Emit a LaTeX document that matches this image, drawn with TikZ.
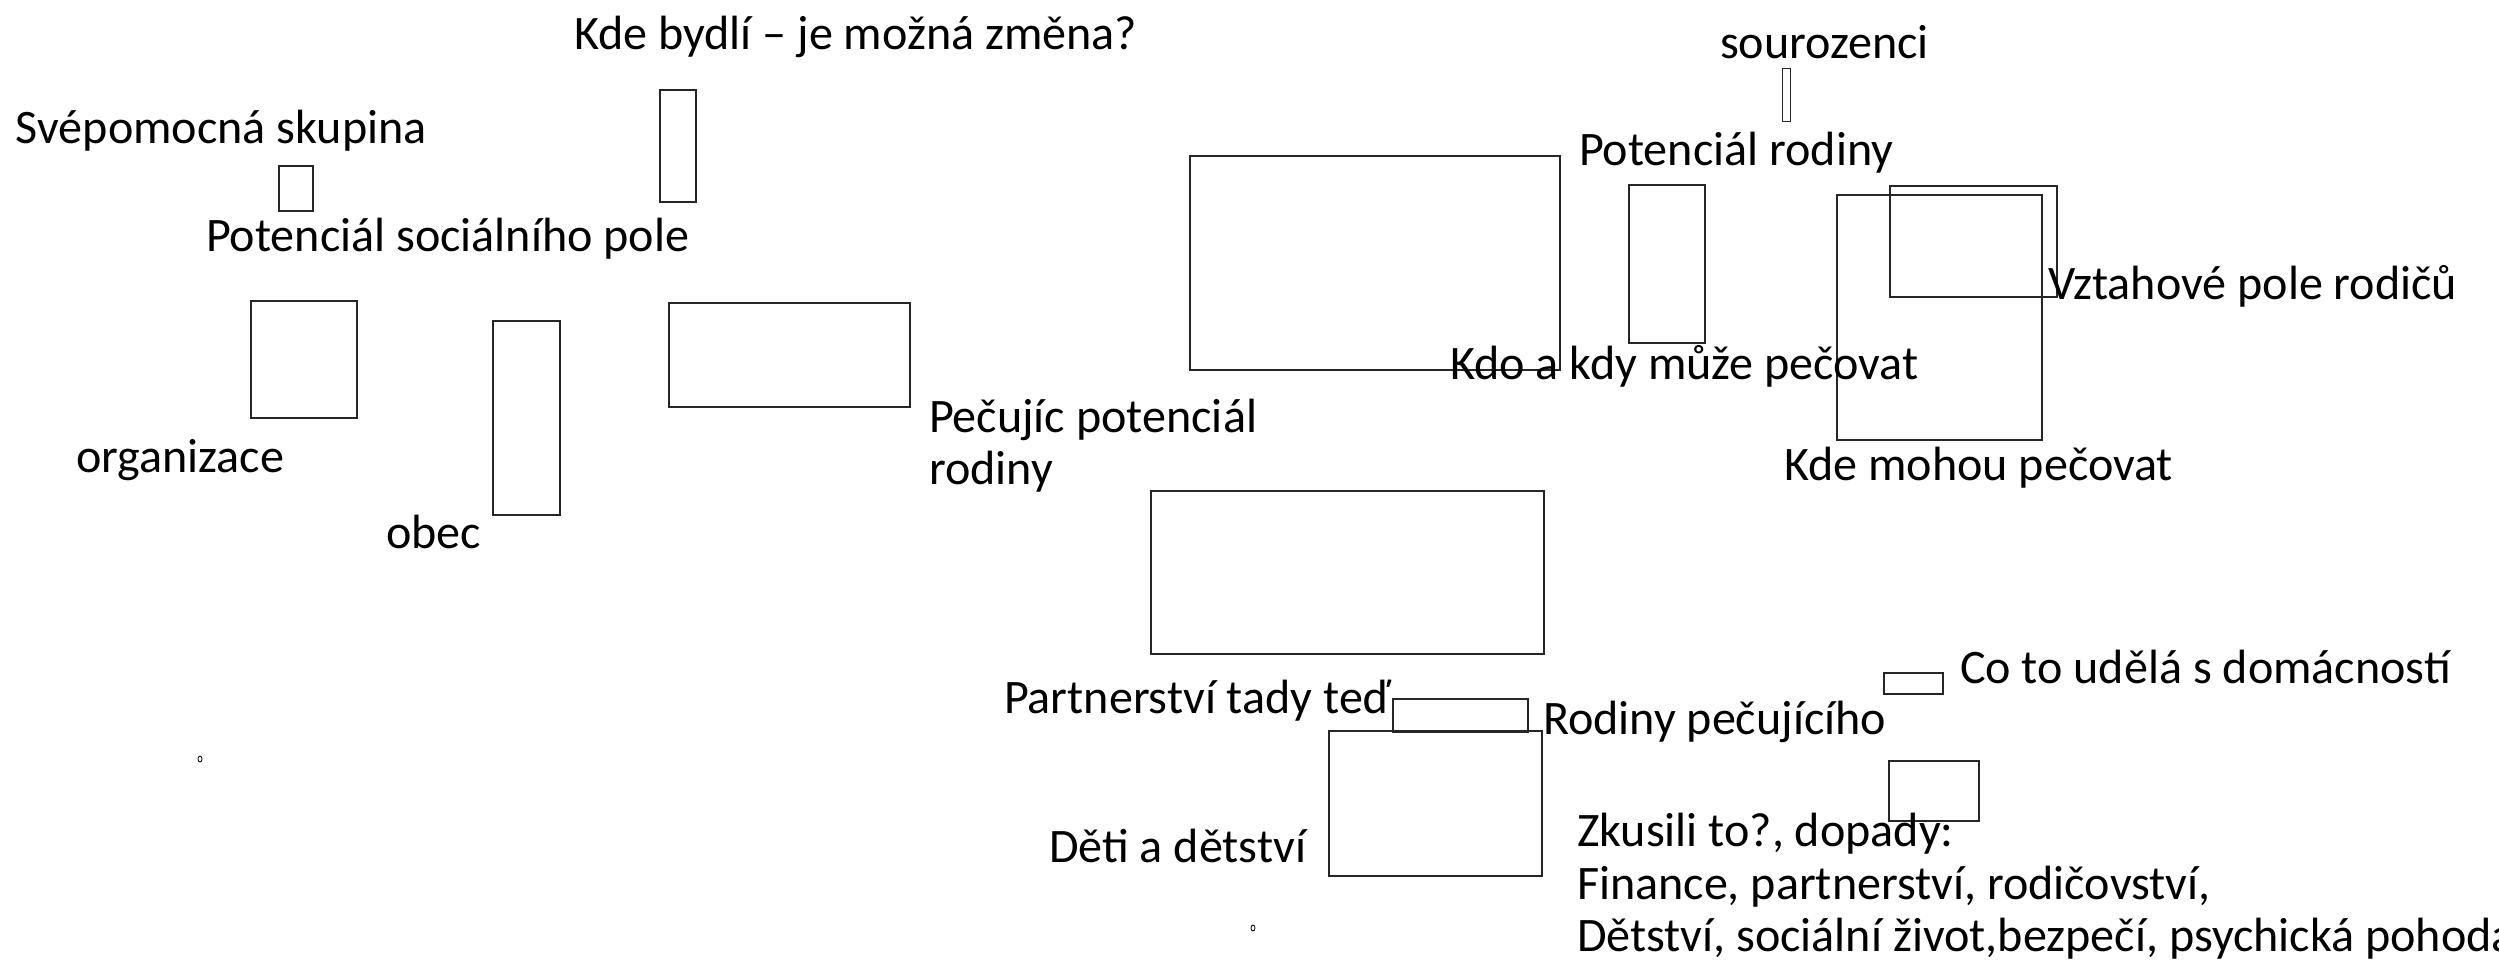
\documentclass[tikz,border=0pt]{standalone}
\usepackage{fontspec}
\setmainfont{Carlito}
\tikzset{
  box/.style={draw=black!85, line width=1.5pt, inner sep=0pt, outer sep=0pt, rectangle},
  lbl/.style={inner sep=0pt, outer sep=0pt, anchor=base west, font=\fontsize{48.1}{52.5}\selectfont},
  dot/.style={draw=black, line width=0.8pt, ellipse, minimum width=4pt, minimum height=6pt, inner sep=0pt}
}
\usetikzlibrary{shapes.geometric}
\begin{document}
\begin{tikzpicture}[x=1pt,y=-1pt]
\useasboundingbox (0,0) rectangle (2499,966);
% boxes
\node[box, minimum width=34pt,  minimum height=45pt]  (bsvep)   at (296,188.5) {};
\node[box, minimum width=36pt,  minimum height=112pt] (bbydli)  at (678,146) {};
\node[box, minimum width=106pt, minimum height=117pt] (borg)    at (304,359.5) {};
\node[box, minimum width=67pt,  minimum height=194pt] (bobec)   at (526.5,418) {};
\node[box, minimum width=241pt, minimum height=104pt] (bpecuj)  at (789.5,355) {};
\node[box, minimum width=370pt, minimum height=214pt] (btop)    at (1375,263) {};
\node[box, minimum width=8pt,   minimum height=52pt, line width=1pt]  (bsour)   at (1786,95) {};
\node[box, minimum width=76pt,  minimum height=158pt] (bpotrod) at (1667,264) {};
\node[box, minimum width=205pt, minimum height=245pt] (bkde)    at (1939.5,317.5) {};
\node[box, minimum width=167pt, minimum height=111pt] (bvzt)    at (1973.5,241.5) {};
\node[box, minimum width=393pt, minimum height=163pt] (bpart)   at (1347.5,572.5) {};
\node[box, minimum width=135pt, minimum height=33pt]  (brodpec) at (1460.5,715.5) {};
\node[box, minimum width=213pt, minimum height=145pt] (bdeti)   at (1435.5,803.5) {};
\node[box, minimum width=59pt,  minimum height=21pt]  (bcoto)   at (1913.5,683.5) {};
\node[box, minimum width=90pt,  minimum height=60pt]  (bzk)     at (1934,791) {};
% small dots
\node[dot] (d1) at (200,759) {};
\node[dot] (d2) at (1253,928) {};
% labels
\node[lbl] (tbydli) at (574,49)   {Kde bydlí – je možná změna?};
\node[lbl] (tsvep)  at (16,143)   {Svépomocná skupina};
\node[lbl] (tpsp)   at (206,251)  {Potenciál sociálního pole};
\node[lbl] (torg)   at (76,472)   {organizace};
\node[lbl] (tobec)  at (386,548)  {obec};
\node[lbl] (tpec1)  at (929,432)  {Pečujíc potenciál};
\node[lbl] (tpec2)  at (929,484.5){rodiny};
\node[lbl] (tsour)  at (1720,59)  {sourozenci};
\node[lbl] (tpotr)  at (1579,165) {Potenciál rodiny};
\node[lbl] (tvzt)   at (2048,299) {Vztahové pole rodičů};
\node[lbl] (tkdo)   at (1450,379) {Kdo a kdy může pečovat};
\node[lbl] (tkde)   at (1784,480) {Kde mohou pečovat};
\node[lbl] (tcoto)  at (1960,683) {Co to udělá s domácností};
\node[lbl] (tpart)  at (1004,713) {Partnerství tady teď};
\node[lbl] (trodp)  at (1543,734) {Rodiny pečujícího};
\node[lbl] (tdeti)  at (1049,862) {Děti a dětství};
\node[lbl] (tzk1)   at (1577,846.5) {Zkusili to?, dopady:};
\node[lbl] (tzk2)   at (1577,899)   {Finance, partnerství, rodičovství,};
\node[lbl] (tzk3)   at (1577,951.5) {Dětství, sociální život,bezpečí, psychická pohoda};
\end{tikzpicture}
\end{document}
